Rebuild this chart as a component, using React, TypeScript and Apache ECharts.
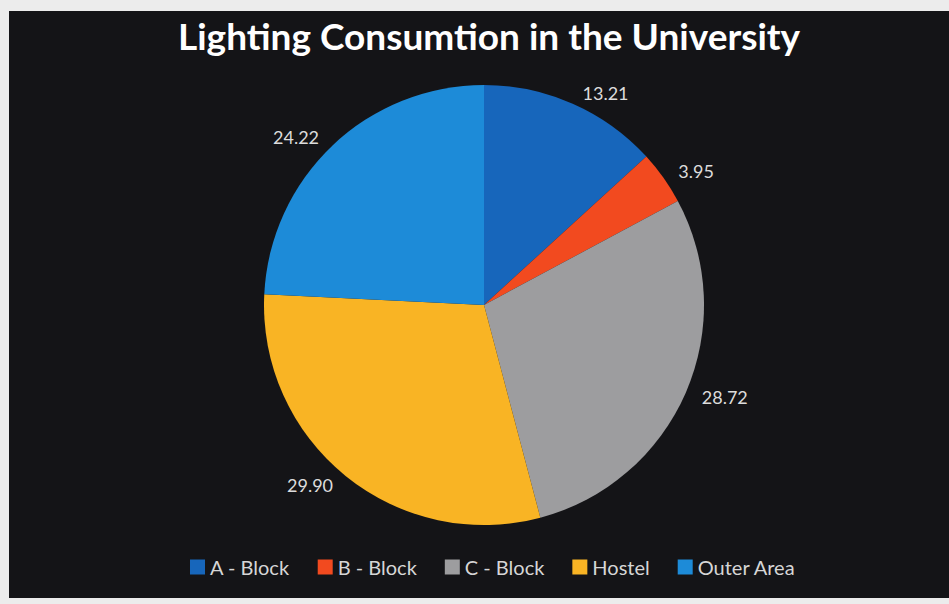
import React, { useEffect, useRef } from "react";
import * as echarts from "echarts";

const categories = ["A - Block", "B - Block", "C - Block", "Hostel", "Outer Area"];
const values = [13.21, 3.95, 28.72, 29.9, 24.22];
const colors = ["#1766bb", "#f24a1f", "#9d9d9f", "#f9b424", "#1d8bd8"];
const titleText = "Lighting Consumtion in the University";

export default function App() {
  const ref = useRef<HTMLDivElement>(null);
  useEffect(() => {
    if (!ref.current) return;
    const chart = echarts.init(ref.current, null, { renderer: "svg" });
    chart.setOption({
      animation: false,
      backgroundColor: "#141417",
      title: {
        text: titleText,
        left: 164,
        top: 1,
        textStyle: { color: "#ffffff", fontFamily: "Lato", fontWeight: "bold", fontSize: 37 },
      },
      legend: {
        data: categories,
        left: 176,
        top: 541,
        itemWidth: 15,
        itemHeight: 15,
        itemGap: 28,
        icon: "rect",
        textStyle: { color: "#d6d6d6", fontFamily: "Lato", fontSize: 20 },
      },
      series: [
        {
          type: "pie",
          center: [475, 294],
          radius: 220,
          startAngle: 90,
          clockwise: true,
          avoidLabelOverlap: false,
          itemStyle: { borderColor: "#141417", borderWidth: 0 },
          label: {
            show: true,
            position: "outside",
            color: "#dcdcdc",
            fontFamily: "Lato",
            fontSize: 18,
            formatter: (p: any) => p.value.toFixed(2),
            distanceToLabelLine: 5,
          },
          labelLine: { show: false, length: 12, length2: 0 },
          data: categories.map((name, i) => ({
            name,
            value: values[i],
            itemStyle: { color: colors[i] },
          })),
        },
      ],
    });
    return () => chart.dispose();
  }, []);
  return (
    <div style={{ position: "fixed", left: 0, top: 0, width: 949, height: 604, background: "#ececec" }}>
      <div ref={ref} style={{ position: "absolute", left: 9, top: 11, width: 940, height: 587 }} />
    </div>
  );
}
